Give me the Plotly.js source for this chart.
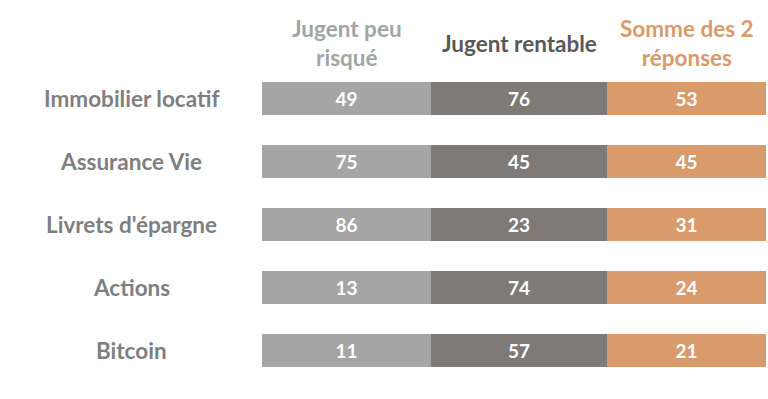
<!DOCTYPE html>
<html>
<head>
<meta charset="utf-8">
<script src="https://cdn.plot.ly/plotly-3.0.1.min.js"></script>
<style>html,body{margin:0;padding:0;background:#fff;}#chart{width:768px;height:399px;}</style>
</head>
<body>
<div id="chart"></div>
<script>
const categories = ["Immobilier locatif", "Assurance Vie", "Livrets d'épargne", "Actions", "Bitcoin"];
const peuRisque = [49, 75, 86, 13, 11];
const rentable = [76, 45, 23, 74, 57];
const somme = [53, 45, 31, 24, 21];
const headers = ["Jugent peu<br>risqué", "Jugent rentable", "Somme des 2<br>réponses"];

const colW = [169, 176, 159];
const colColors = ["#a5a5a5", "#7e7a78", "#d99a6c"];
const headColors = ["#9fa6a6", "#595959", "#d99a6c"];
const series = [peuRisque, rentable, somme];
const FONT = "Lato, 'Open Sans', sans-serif";

const traces = series.map((vals, i) => ({
  type: "bar",
  orientation: "h",
  y: categories,
  x: vals.map(() => colW[i]),
  text: vals.map(String),
  textposition: "inside",
  insidetextanchor: "middle",
  textfont: {family: FONT, size: 19, color: "#ffffff", weight: "bold"},
  marker: {color: colColors[i], line: {width: 0}},
  hoverinfo: "skip",
  showlegend: false
}));

let acc = 0;
const annotations = [];
headers.forEach((h, i) => {
  annotations.push({
    xref: "x", yref: "paper",
    x: acc + colW[i] / 2, y: 1,
    yshift: 24,
    text: h, showarrow: false,
    xanchor: "center", yanchor: "middle",
    font: {family: FONT, size: 22.5, color: headColors[i], weight: "bold"}
  });
  acc += colW[i];
});
categories.forEach(c => {
  annotations.push({
    xref: "paper", yref: "y",
    x: 0, xshift: -131, y: c,
    text: c, showarrow: false,
    xanchor: "center", yanchor: "middle",
    font: {family: FONT, size: 22.5, color: "#7f7f7f", weight: "bold"}
  });
});

const layout = {
  width: 768, height: 399,
  margin: {l: 262, r: 2, t: 67, b: 17},
  paper_bgcolor: "#ffffff", plot_bgcolor: "#ffffff",
  barmode: "stack",
  bargap: 0.476,
  xaxis: {range: [0, acc], visible: false, fixedrange: true},
  yaxis: {autorange: "reversed", showticklabels: false, showgrid: false, zeroline: false, showline: false, ticks: ""},
  annotations: annotations,
  font: {family: FONT}
};

Plotly.newPlot("chart", traces, layout, {displayModeBar: false, staticPlot: true});
</script>
</body>
</html>
